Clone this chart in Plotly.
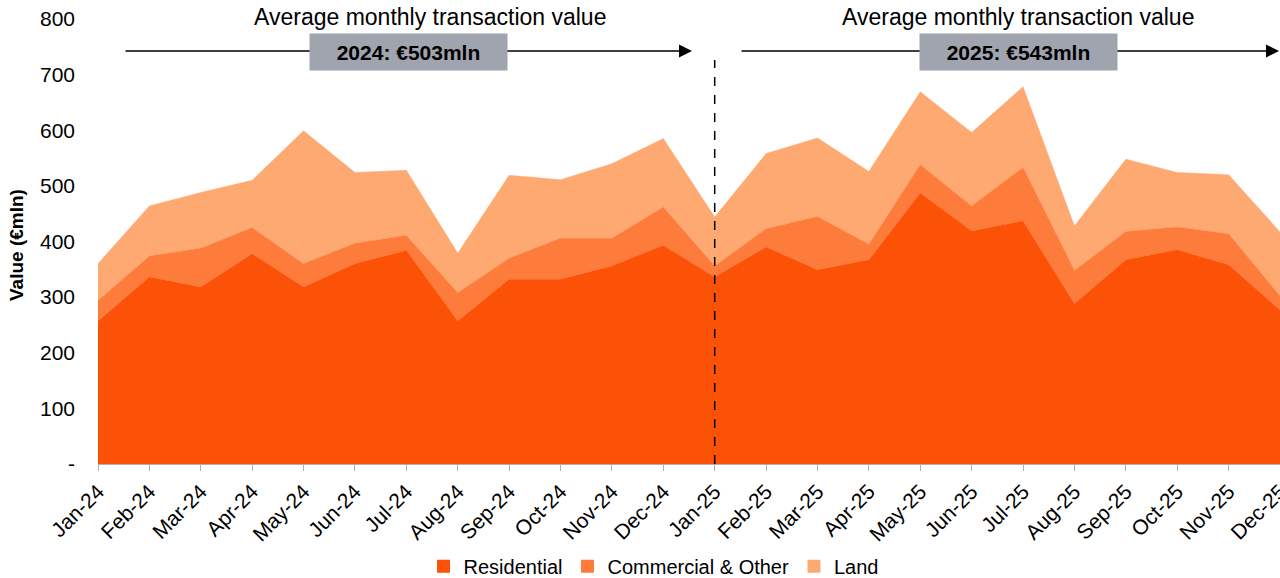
import plotly.graph_objects as go

months = ["Jan-24","Feb-24","Mar-24","Apr-24","May-24","Jun-24","Jul-24","Aug-24","Sep-24","Oct-24","Nov-24","Dec-24",
          "Jan-25","Feb-25","Mar-25","Apr-25","May-25","Jun-25","Jul-25","Aug-25","Sep-25","Oct-25","Nov-25","Dec-25"]
residential = [257, 336, 318, 378, 318, 360, 384, 257, 332, 332, 356, 393,
               336, 390, 349, 367, 487, 419, 437, 288, 367, 385, 358, 277]
commercial = [37, 38, 70, 47, 42, 37, 27, 51, 38, 74, 50, 69,
              20, 33, 96, 28, 51, 45, 96, 60, 51, 41, 56, 25]
land = [66, 90, 100, 85, 239, 127, 117, 71, 149, 105, 134, 123,
        88, 135, 141, 131, 131, 132, 145, 80, 130, 98, 106, 115]
y_ticks = [0, 100, 200, 300, 400, 500, 600, 700, 800]
y_ticktext = ["-", "100", "200", "300", "400", "500", "600", "700", "800"]
avg_labels = ["2024: €503mln", "2025: €543mln"]
header = "Average monthly transaction value"
series_names = ["Residential", "Commercial & Other", "Land"]

FONT = "Liberation Sans, Arial, sans-serif"
colors = ["#FC5208", "#FD7C3B", "#FEA971"]

W, H = 1280, 594

fig = go.Figure()
for name, vals, c in zip(series_names, [residential, commercial, land], colors):
    fig.add_trace(go.Scatter(x=months, y=vals, name=name, stackgroup="one",
                             mode="lines", line=dict(color=c, width=0.5),
                             fillcolor=c, showlegend=False))
# legend swatches (small squares)
for name, c in zip(series_names, colors):
    fig.add_trace(go.Scatter(x=[None], y=[None], mode="markers", name=name,
                             marker=dict(symbol="square", size=13, color=c),
                             showlegend=True))

fig.update_layout(
    width=W, height=H,
    margin=dict(l=98, r=0, t=19, b=H - 464),
    paper_bgcolor="white", plot_bgcolor="white",
    font=dict(family=FONT, size=17, color="black"),
    showlegend=True,
    legend=dict(orientation="h", x=0.47, xanchor="center", y=-0.186, yanchor="top",
                font=dict(size=20), traceorder="normal", itemwidth=30,
                tracegroupgap=0),
    xaxis=dict(type="category", range=[0, 23], tickangle=-45, showgrid=False,
               showline=True, linecolor="#b0b0b0", linewidth=1,
               ticks="outside", ticklen=6, tickcolor="#b0b0b0",
               tickfont=dict(size=21), automargin=False),
    yaxis=dict(range=[0, 800], tickvals=y_ticks, ticktext=y_ticktext,
               showgrid=False, zeroline=False, showline=False,
               tickfont=dict(size=21), ticks="", ticklabelstandoff=22,
               automargin=False),
)

# dashed divider at Jan-25
fig.add_shape(type="line", xref="x", yref="paper", x0="Jan-25", x1="Jan-25",
              y0=0, y1=0.908, line=dict(color="black", width=1.5, dash="dash"))

def px_x(p):
    return (p - 98) / 1182

def px_y(p):
    return (464 - p) / 445

# y-axis title
fig.add_annotation(xref="paper", yref="paper", x=px_x(16), y=px_y(245),
                   text="<b>Value (€mln)</b>", textangle=-90, showarrow=False,
                   font=dict(size=19, color="black"), xanchor="center", yanchor="middle")

for (x0, x1, bx0, bx1, tc, lab) in [(124, 692, 310, 507, 430, avg_labels[0]),
                                     (740, 1282, 921, 1117, 1018, avg_labels[1])]:
    fig.add_annotation(xref="paper", yref="paper", x=px_x(x1), y=px_y(51),
                       ax=-(x1 - x0), ay=0, axref="pixel", ayref="pixel",
                       showarrow=True, arrowhead=2, arrowsize=2.0, arrowwidth=1.3,
                       arrowcolor="black", text="")
    fig.add_annotation(xref="paper", yref="paper", x=px_x((bx0 + bx1) / 2), y=px_y(52),
                       text="<b>" + lab + "</b>", showarrow=False,
                       bgcolor="#A0A4AF", width=191, height=30, borderpad=3,
                       font=dict(size=21, color="black"), xanchor="center", yanchor="middle")
    fig.add_annotation(xref="paper", yref="paper", x=px_x(tc), y=px_y(17),
                       text=header, showarrow=False, font=dict(size=23, color="black"),
                       xanchor="center", yanchor="middle")

post = "document.body.style.margin='0';document.body.style.overflow='hidden';"
fig.write_html("out.html", config={"displayModeBar": False}, post_script=post)
